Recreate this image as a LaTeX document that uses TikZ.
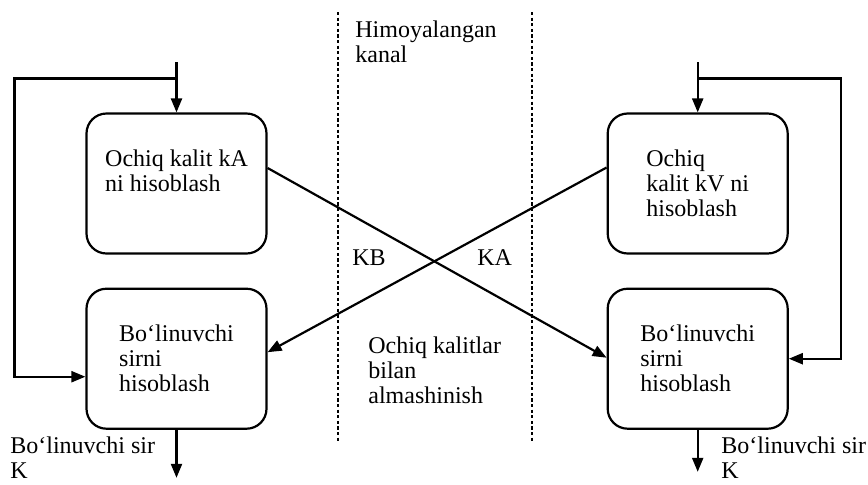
\documentclass[tikz,border=0pt]{standalone}
\usepackage{fontspec}
\setmainfont{Liberation Serif}
\usetikzlibrary{arrows.meta, positioning, calc}

\begin{document}
\begin{tikzpicture}[x=0.5pt, y=-0.5pt, font=\fontsize{12}{12.5}\selectfont, >=Triangle, node distance=16.5pt]
  % Styles
  \tikzset{
    box/.style={rounded corners=10pt, draw=black, line width=1.1pt, align=left, minimum height=70pt, minimum width=90pt, inner sep=2pt},
    arrow/.style={-{Triangle[length=7pt,width=5.5pt]}, line width=1.1pt},
    channel/.style={line width=1.3pt, dash pattern=on 1.6pt off 1.2pt},
    note/.style={inner sep=0pt, align=left, anchor=north west}
  }

  \useasboundingbox (0,0) rectangle (868,484);

  % Nodes
  \node[box] (keyA) at (176.5,183.5) {Ochiq kalit kA\\ni hisoblash\\ ~};
  \node[box, below=of keyA] (secretA) {Bo‘linuvchi\\sirni\\hisoblash};
  \node[box, right=169.5pt of keyA] (keyB) {Ochiq\\kalit kV ni\\hisoblash};
  \node[box, below=of keyB] (secretB) {Bo‘linuvchi\\sirni\\hisoblash};

  \node[note] (channel) at (355,20) {Himoyalangan\\kanal};
  \node[note] (exchange) at (368,336) {Ochiq kalitlar\\bilan\\almashinish};
  \node[note] (kb) at (352,249) {KB};
  \node[note] (ka) at (477,249) {KA};
  \node[note] (sharedA) at (10,436) {Bo‘linuvchi sir\\K};
  \node[note] (sharedB) at (721,436) {Bo‘linuvchi sir\\K};

  \coordinate[above=25pt of keyA.north] (inA);
  \coordinate[above=17pt of keyA.north] (splitA);
  \coordinate (loopA) at ($(keyA.west |- splitA)+(-35.5pt,0)$);
  \coordinate[below=24pt of secretA.south] (outA);

  \coordinate[above=25pt of keyB.north] (inB);
  \coordinate[above=17pt of keyB.north] (splitB);
  \coordinate (loopB) at ($(keyB.east |- splitB)+(26pt,0)$);
  \coordinate[below=21pt of secretB.south] (outB);

  % Channel borders
  \draw[channel] (338,12) -- (338,442);
  \draw[channel] (532,12) -- (532,442);

  % Arrows
  \draw[arrow] (inA) -- (keyA);
  \draw[arrow] (splitA) -- (loopA) |- ([yshift=-9pt]secretA.west);
  \draw[arrow] (secretA) -- (outA);

  \draw[arrow] (inB) -- (keyB);
  \draw[arrow] (splitB) -- (loopB) |- (secretB.east);
  \draw[arrow] (secretB) -- (outB);

  \draw[arrow] ([yshift=7.75pt]keyA.east) -- ([yshift=0.5pt]secretB.west);
  \draw[arrow] ([yshift=8pt]keyB.west) -- ([yshift=3.25pt]secretA.east);

\end{tikzpicture}
\end{document}
